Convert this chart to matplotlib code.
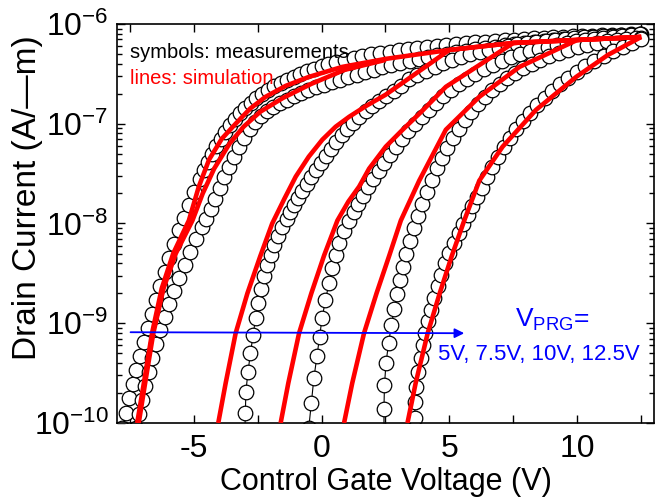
# Transfer curves: measured (circles) vs simulated (red lines) drain current

import numpy as np
import matplotlib.pyplot as plt
from matplotlib.ticker import MultipleLocator, FixedLocator, FuncFormatter, NullFormatter

plt.rcParams['font.family'] = ['Liberation Sans', 'DejaVu Sans']
plt.rcParams['mathtext.fontset'] = 'custom'
plt.rcParams['mathtext.rm'] = 'Liberation Sans'
plt.rcParams['mathtext.it'] = 'Liberation Sans:italic'
plt.rcParams['axes.unicode_minus'] = False

# --- measured curves: gate voltage (V) and log10 of drain current ---
meas_1a_v = [-7.80, -7.66, -7.52, -7.38, -7.24, -7.10, -6.95, -6.80, -6.64, -6.48, -6.31, -6.14,
             -5.96, -5.77, -5.58, -5.38, -5.18, -4.97, -4.75, -4.60, -4.44, -4.28, -4.11, -3.94,
             -3.76, -3.58, -3.39, -3.19, -2.98, -2.77, -2.55, -2.32, -2.09, -1.85, -1.60, -1.35,
             -1.09, -0.83, -0.56, -0.28, 0.00, 0.25, 0.58, 0.92, 1.26, 1.60, 1.95, 2.30, 2.66,
             3.02, 3.38, 3.75, 4.12, 4.50, 4.88, 5.26, 5.64, 6.02, 6.40, 6.78, 7.16, 7.54, 7.92,
             8.30, 8.68, 9.06, 9.44, 9.82, 10.20, 10.58, 10.96, 11.34, 11.72, 12.10, 12.50]
meas_1a_log = [-10.05, -9.90, -9.75, -9.61, -9.47, -9.33, -9.19, -9.05, -8.91, -8.77, -8.63, -8.49,
               -8.35, -8.21, -8.07, -7.94, -7.81, -7.68, -7.55, -7.46, -7.38, -7.30, -7.22, -7.15,
               -7.08, -7.01, -6.95, -6.89, -6.84, -6.79, -6.74, -6.70, -6.66, -6.62, -6.59, -6.56,
               -6.53, -6.50, -6.47, -6.45, -6.42, -6.40, -6.38, -6.36, -6.34, -6.32, -6.30, -6.29,
               -6.28, -6.26, -6.25, -6.24, -6.23, -6.22, -6.21, -6.20, -6.19, -6.18, -6.18, -6.17,
               -6.16, -6.16, -6.15, -6.14, -6.14, -6.13, -6.13, -6.12, -6.12, -6.12, -6.11, -6.11,
               -6.11, -6.10, -6.10]

meas_1b_v = [-7.25, -7.13, -7.01, -6.89, -6.76, -6.62, -6.47, -6.31, -6.14, -5.96, -5.77, -5.57,
             -5.36, -5.14, -4.91, -4.67, -4.50, -4.33, -4.16, -3.98, -3.80, -3.61, -3.42, -3.22,
             -3.02, -2.81, -2.59, -2.36, -2.12, -1.88, -1.62, -1.36, -1.09, -0.81, -0.52, -0.22,
             0.08, 0.40, 0.72, 1.04, 1.37, 1.70, 2.04, 2.38, 2.73, 3.08, 3.44, 3.80, 4.16, 4.53,
             4.90, 5.27, 5.64, 6.02, 6.40, 6.78, 7.16, 7.54, 7.92, 8.30, 8.68, 9.06, 9.44, 9.82,
             10.20, 10.58, 10.96, 11.34, 11.72, 12.10, 12.45]
meas_1b_log = [-10.05, -9.91, -9.77, -9.63, -9.49, -9.35, -9.21, -9.07, -8.94, -8.81, -8.68, -8.55,
               -8.42, -8.29, -8.16, -8.04, -7.95, -7.85, -7.75, -7.64, -7.53, -7.43, -7.33, -7.23,
               -7.14, -7.05, -6.98, -6.92, -6.87, -6.83, -6.79, -6.76, -6.72, -6.69, -6.66, -6.63,
               -6.61, -6.58, -6.56, -6.53, -6.51, -6.48, -6.46, -6.43, -6.41, -6.39, -6.37, -6.35,
               -6.33, -6.31, -6.30, -6.28, -6.27, -6.25, -6.24, -6.23, -6.21, -6.20, -6.19, -6.18,
               -6.17, -6.16, -6.15, -6.15, -6.14, -6.13, -6.13, -6.12, -6.12, -6.11, -6.11]

meas_2_v = [-3.00, -2.98, -2.96, -2.88, -2.78, -2.68, -2.58, -2.47, -2.36, -2.24, -2.12, -1.99,
            -1.85, -1.70, -1.54, -1.37, -1.22, -1.07, -0.91, -0.75, -0.58, -0.40, -0.22, -0.03,
            0.16, 0.36, 0.57, 0.78, 1.00, 1.23, 1.47, 1.72, 1.98, 2.25, 2.53, 2.82, 3.12, 3.43,
            3.75, 4.08, 4.42, 4.76, 5.11, 5.46, 5.82, 6.18, 6.55, 6.92, 7.29, 7.66, 8.03, 8.40,
            8.77, 9.14, 9.51, 9.88, 10.25, 10.62, 10.99, 11.36, 11.73, 12.10, 12.45]
meas_2_log = [-10.10, -9.90, -9.69, -9.49, -9.30, -9.12, -8.95, -8.80, -8.66, -8.53, -8.42, -8.32,
              -8.22, -8.13, -8.04, -7.95, -7.88, -7.81, -7.74, -7.67, -7.60, -7.53, -7.46, -7.39,
              -7.32, -7.25, -7.18, -7.11, -7.05, -6.99, -6.93, -6.87, -6.82, -6.77, -6.72, -6.67,
              -6.62, -6.55, -6.51, -6.47, -6.43, -6.39, -6.36, -6.33, -6.30, -6.28, -6.26, -6.24,
              -6.22, -6.20, -6.19, -6.18, -6.17, -6.16, -6.15, -6.14, -6.13, -6.13, -6.12, -6.12,
              -6.11, -6.11, -6.10]

meas_3_v = [-0.50, -0.40, -0.30, -0.18, -0.08, 0.02, 0.15, 0.29, 0.42, 0.56, 0.70, 0.88, 1.07,
            1.25, 1.43, 1.62, 1.82, 2.02, 2.23, 2.45, 2.68, 2.91, 3.15, 3.40, 3.66, 3.92, 4.19,
            4.47, 4.76, 5.06, 5.37, 5.69, 6.02, 6.36, 6.71, 7.06, 7.42, 7.78, 8.14, 8.50, 8.86,
            9.22, 9.58, 9.94, 10.30, 10.66, 11.02, 11.38, 11.74, 12.10, 12.46]
meas_3_log = [-10.05, -9.80, -9.55, -9.33, -9.14, -8.95, -8.77, -8.60, -8.45, -8.32, -8.20, -8.08,
              -7.97, -7.88, -7.80, -7.72, -7.63, -7.55, -7.47, -7.39, -7.31, -7.23, -7.15, -7.07,
              -7.00, -6.93, -6.86, -6.79, -6.72, -6.66, -6.60, -6.55, -6.50, -6.45, -6.41, -6.37,
              -6.33, -6.30, -6.27, -6.25, -6.23, -6.21, -6.19, -6.17, -6.16, -6.15, -6.14, -6.13,
              -6.12, -6.11, -6.10]

meas_4_v = [2.44, 2.44, 2.46, 2.52, 2.62, 2.73, 2.84, 2.95, 3.06, 3.18, 3.31, 3.45, 3.60, 3.76,
            3.93, 4.11, 4.30, 4.50, 4.71, 4.92, 5.14, 5.37, 5.61, 5.86, 6.12, 6.39, 6.67, 6.96,
            7.26, 7.57, 7.89, 8.22, 8.56, 8.91, 9.27, 9.64, 10.02, 10.40, 10.78, 11.16, 11.54,
            11.92, 12.30, 12.50]
meas_4_log = [-10.08, -9.86, -9.62, -9.40, -9.20, -9.02, -8.86, -8.71, -8.57, -8.44, -8.31, -8.18,
              -8.05, -7.92, -7.80, -7.68, -7.56, -7.44, -7.34, -7.24, -7.14, -7.05, -6.96, -6.88,
              -6.80, -6.73, -6.66, -6.60, -6.54, -6.49, -6.44, -6.40, -6.36, -6.32, -6.29, -6.26,
              -6.23, -6.21, -6.19, -6.17, -6.16, -6.15, -6.14, -6.14]

meas_5_v = [3.70, 3.66, 3.64, 3.69, 3.79, 3.87, 3.96, 4.06, 4.16, 4.28, 4.41, 4.54, 4.68, 4.84,
            5.00, 5.18, 5.36, 5.54, 5.72, 5.90, 6.08, 6.27, 6.47, 6.68, 6.90, 7.13, 7.37, 7.62,
            7.88, 8.15, 8.43, 8.72, 9.02, 9.33, 9.65, 9.98, 10.32, 10.67, 11.03, 11.40, 11.77,
            12.14, 12.50]
meas_5_log = [-10.12, -9.95, -9.79, -9.64, -9.49, -9.35, -9.22, -9.10, -8.98, -8.87, -8.75, -8.63,
              -8.52, -8.40, -8.30, -8.20, -8.10, -8.01, -7.91, -7.82, -7.73, -7.64, -7.53, -7.43,
              -7.33, -7.23, -7.14, -7.05, -6.97, -6.89, -6.81, -6.74, -6.67, -6.60, -6.54, -6.48,
              -6.42, -6.37, -6.32, -6.27, -6.23, -6.19, -6.15]

# --- simulated curves ---
sim_a1_v = [-7.21, -6.95, -6.63, -6.25, -5.80, -5.19, -4.80, -4.40, -3.90, -3.36, -2.80, -2.19,
            -1.40, -0.49, 0.81, 2.50, 5.00, 7.50, 10.00, 12.50]
sim_a1_log = [-10.00, -9.60, -9.10, -8.65, -8.30, -7.97, -7.63, -7.36, -7.15, -7.00, -6.85, -6.73,
              -6.62, -6.53, -6.43, -6.35, -6.26, -6.19, -6.16, -6.13]
sim_a2_v = [-7.15, -6.90, -6.58, -6.18, -5.70, -5.05, -4.65, -4.20, -3.60, -3.05, -2.40, -1.50,
            -0.40, 0.90, 2.50]
sim_a2_log = [-10.00, -9.60, -9.10, -8.65, -8.30, -7.97, -7.70, -7.45, -7.20, -7.03, -6.88, -6.74,
              -6.60, -6.46, -6.36]
sim_b_v = [-4.04, -3.75, -3.36, -2.90, -2.40, -1.93, -1.45, -1.01, -0.50, 0.03, 0.55, 1.08, 1.75,
           2.50, 5.00, 7.50, 10.00, 12.50]
sim_b_log = [-10.00, -9.60, -9.10, -8.70, -8.33, -8.00, -7.75, -7.53, -7.33, -7.16, -7.03, -6.93,
             -6.82, -6.71, -6.26, -6.19, -6.16, -6.13]
sim_c_v = [-1.60, -1.30, -0.88, -0.40, 0.10, 0.62, 1.05, 1.47, 1.86, 2.51, 3.17, 3.90, 4.86, 7.50,
           10.00, 12.50]
sim_c_log = [-10.00, -9.60, -9.10, -8.70, -8.32, -7.97, -7.78, -7.63, -7.45, -7.23, -7.06, -6.88,
             -6.63, -6.19, -6.16, -6.13]
sim_d_v = [0.88, 1.20, 1.66, 2.15, 2.65, 3.10, 3.82, 4.86, 6.17, 7.74, 10.00, 12.50]
sim_d_log = [-10.00, -9.60, -9.10, -8.70, -8.32, -7.97, -7.57, -7.06, -6.73, -6.43, -6.16, -6.13]
sim_e_v = [3.36, 3.68, 4.15, 4.62, 5.10, 5.58, 6.17, 7.08, 8.39, 9.96, 11.20, 12.50]
sim_e_log = [-10.00, -9.60, -9.10, -8.70, -8.32, -7.97, -7.57, -7.23, -6.86, -6.53, -6.31, -6.13]

measured = [(meas_1a_v, meas_1a_log), (meas_1b_v, meas_1b_log), (meas_2_v, meas_2_log),
            (meas_3_v, meas_3_log), (meas_4_v, meas_4_log), (meas_5_v, meas_5_log)]
simulated = [(sim_a1_v, sim_a1_log), (sim_a2_v, sim_a2_log), (sim_b_v, sim_b_log),
             (sim_c_v, sim_c_log), (sim_d_v, sim_d_log), (sim_e_v, sim_e_log)]

# arrow across the curves and its label
arrow_v = [-7.47, 5.58]
arrow_log = [-9.09, -9.10]
prg_values = ["5V", "7.5V", "10V", "12.5V"]

fig = plt.figure(figsize=(6.64, 5.01), dpi=100)
ax = fig.add_axes([0.1762, 0.1557, 0.8087, 0.7964])

for v, lg in measured:
    ax.plot(v, 10.0 ** np.array(lg), '-o', color='black', lw=0.8, ms=10.5,
            mfc='white', mec='black', mew=0.9, zorder=2)

for v, lg in simulated:
    ax.plot(v, 10.0 ** np.array(lg), '-', color='#ff0000', lw=3.3, zorder=3,
            solid_capstyle='butt')

ax.annotate('', xy=(arrow_v[1], 10.0 ** arrow_log[1]), xytext=(arrow_v[0], 10.0 ** arrow_log[0]),
            arrowprops=dict(arrowstyle='-|>', color='#0000ff', lw=1.3, mutation_scale=14,
                            shrinkA=0, shrinkB=0), zorder=4)

ax.set_yscale('log')
ax.set_xlim(-8, 13)
ax.set_ylim(1e-10, 1e-6)

ax.xaxis.set_major_locator(MultipleLocator(5))
ax.xaxis.set_minor_locator(MultipleLocator(2.5))
ax.xaxis.set_major_formatter(FuncFormatter(lambda x, p: '%d' % x))
ax.yaxis.set_major_locator(FixedLocator([1e-10, 1e-9, 1e-8, 1e-7, 1e-6]))
ax.yaxis.set_major_formatter(FuncFormatter(
    lambda y, p: r'$\mathregular{10^{%d}}$' % round(np.log10(y))))
minor_y = [m * 10.0 ** e for e in range(-10, -6) for m in range(2, 10)]
ax.yaxis.set_minor_locator(FixedLocator(minor_y))
ax.yaxis.set_minor_formatter(NullFormatter())

ax.tick_params(which='both', direction='in', top=True, right=True, width=1.0,
               labelsize=23)
ax.tick_params(which='major', length=6)
ax.tick_params(axis='x', which='minor', length=6)
ax.tick_params(axis='y', which='minor', length=3.5)
ax.tick_params(axis='x', pad=8)
ax.tick_params(axis='y', pad=6)
for s in ax.spines.values():
    s.set_linewidth(1.2)

ax.set_xlabel('Control Gate Voltage (V)', fontsize=22, labelpad=2)
ax.set_ylabel('Drain Current (A/\u2014m)', fontsize=24)
ax.yaxis.set_label_coords(-0.138, 0.566)

ax.text(0.024, 0.914, 'symbols: measurements', transform=ax.transAxes, fontsize=14.5,
        color='black', va='baseline', ha='left')
ax.text(0.024, 0.849, 'lines: simulation', transform=ax.transAxes, fontsize=14.5,
        color='#ff0000', va='baseline', ha='left')
ax.text(0.741, 0.2406, r'V$_{\mathregular{PRG}}$=', transform=ax.transAxes, fontsize=19,
        color='#0000ff', va='baseline', ha='left')
ax.text(0.598, 0.158, ', '.join(prg_values), transform=ax.transAxes, fontsize=16,
        color='#0000ff', va='baseline', ha='left')

plt.savefig('out.png', dpi=100)
